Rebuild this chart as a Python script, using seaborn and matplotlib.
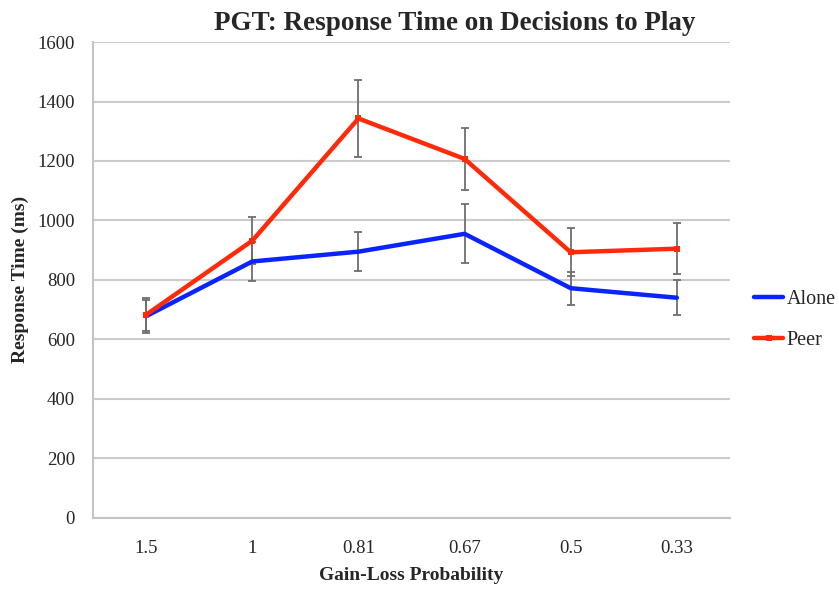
import numpy as np
import pandas as pd
import matplotlib
matplotlib.use("Agg")
import matplotlib.pyplot as plt
import seaborn as sns

# Data
probabilities = ["1.5", "1", "0.81", "0.67", "0.5", "0.33"]
alone_rt = [678, 862, 895, 955, 772, 740]
alone_err = [55, 67, 66, 99, 55, 58]
peer_rt = [683, 932, 1343, 1207, 893, 905]
peer_err = [55, 80, 130, 103, 80, 85]

df = pd.DataFrame({
    "pos": list(range(len(probabilities))) * 2,
    "rt": alone_rt + peer_rt,
    "err": alone_err + peer_err,
    "group": ["Alone"] * len(probabilities) + ["Peer"] * len(probabilities),
})

sns.set_style("white")
plt.rcParams["font.family"] = ["Liberation Serif", "DejaVu Serif"]

fig = plt.figure(figsize=(8.39, 5.93), dpi=100)
ax = fig.add_axes([0.111, 0.127, 0.759, 0.802])

colors = {"Alone": "#0a24ff", "Peer": "#ff2a0a"}

# error bars first, under the lines
for name, sub in df.groupby("group"):
    ax.errorbar(sub["pos"], sub["rt"], yerr=sub["err"], fmt="none",
                ecolor="#6e6e6e", elinewidth=1.3, capsize=3, capthick=1.3, zorder=2)

sns.lineplot(data=df[df.group == "Alone"], x="pos", y="rt", color=colors["Alone"],
             linewidth=3.2, ax=ax, label="Alone", zorder=3)
sns.lineplot(data=df[df.group == "Peer"], x="pos", y="rt", color=colors["Peer"],
             linewidth=3.2, marker="s", markersize=5, markeredgewidth=0,
             ax=ax, label="Peer", zorder=4)

ax.set_xlim(-0.5, len(probabilities) - 0.5)
ax.set_ylim(0, 1600)
ax.set_yticks(np.arange(0, 1601, 200))
ax.set_xticks(range(len(probabilities)))
ax.set_xticklabels(probabilities)
ax.set_xticks(np.arange(-0.5, len(probabilities), 1), minor=True)
ax.tick_params(axis="x", which="major", length=0, labelsize=13.5, pad=16)
ax.tick_params(axis="x", which="minor", length=5, color="#c4c4c4", width=1.2, direction="out")
ax.tick_params(axis="y", length=5, color="#c4c4c4", width=1.2, labelsize=13.5,
               direction="out", pad=8)
ax.yaxis.grid(True, color="#cccccc", linewidth=1.5)
ax.set_axisbelow(True)

for side in ["top", "right"]:
    ax.spines[side].set_visible(False)
for side in ["left", "bottom"]:
    ax.spines[side].set_color("#c4c4c4")
    ax.spines[side].set_linewidth(1.5)

fig.text(455 / 839, 1 - 23 / 593, "PGT: Response Time on Decisions to Play",
         fontsize=19.5, fontweight="bold", ha="center", va="center")
ax.set_xlabel("Gain-Loss Probability", fontsize=14, fontweight="bold", labelpad=7)
ax.set_ylabel("Response Time (ms)", fontsize=14, fontweight="bold", labelpad=6)

ax.legend(loc="center left", bbox_to_anchor=(1.01, 0.415), frameon=False,
          fontsize=14.5, handlelength=1.4, handletextpad=0.2, labelspacing=1.1)

fig.savefig("out.png", dpi=100)
